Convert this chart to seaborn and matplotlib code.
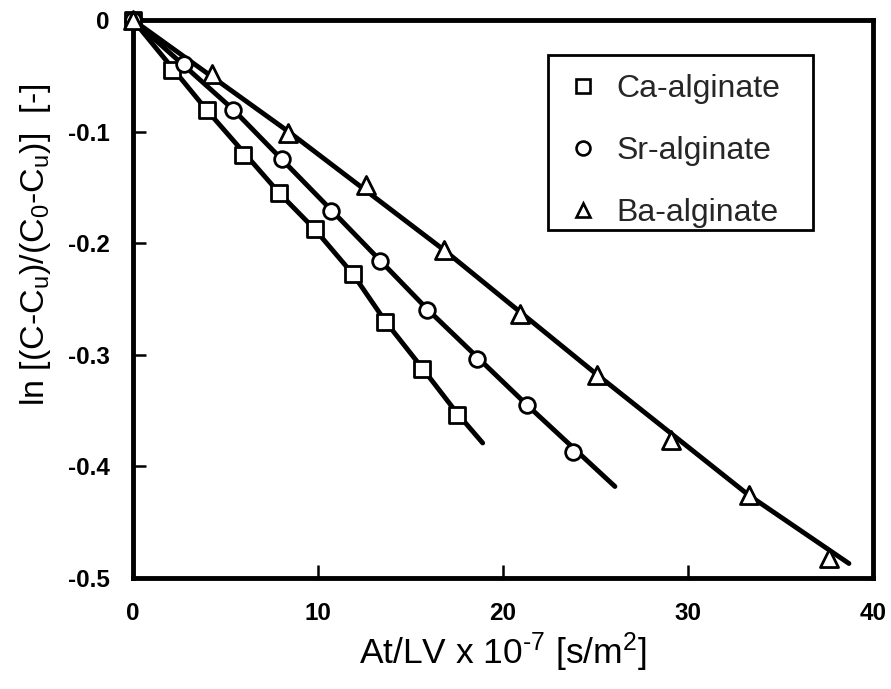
import matplotlib
matplotlib.use("Agg")
import matplotlib.pyplot as plt
import seaborn as sns
import pandas as pd
from matplotlib.lines import Line2D
from matplotlib.patches import Rectangle
from matplotlib.ticker import FuncFormatter

# ---------------- data ----------------
ca_x = [0.0, 2.1, 4.0, 5.95, 7.9, 9.85, 11.9, 13.64, 15.64, 17.5]
ca_y = [0.0, -0.045, -0.081, -0.121, -0.155, -0.187, -0.228, -0.271, -0.313, -0.354]

sr_x = [0.0, 2.76, 5.4, 8.05, 10.7, 13.37, 15.9, 18.6, 21.3, 23.8]
sr_y = [0.0, -0.039, -0.081, -0.125, -0.171, -0.216, -0.260, -0.304, -0.345, -0.387]

ba_x = [0.0, 4.25, 8.4, 12.6, 16.8, 20.9, 25.1, 29.1, 33.3, 37.6]
ba_y = [0.0, -0.048, -0.101, -0.148, -0.206, -0.263, -0.318, -0.376, -0.426, -0.482]

# fitted-line knots (trend lines as drawn)
ca_line_x = [0.0, 4.0, 7.9, 9.85, 11.9, 13.64, 15.64, 17.5, 18.9]
ca_line_y = [0.0, -0.081, -0.155, -0.188, -0.228, -0.270, -0.312, -0.352, -0.379]
sr_line_x = [0.0, 5.4, 10.7, 15.9, 21.3, 26.05]
sr_line_y = [0.0, -0.080, -0.170, -0.259, -0.345, -0.418]
ba_line_x = [0.0, 8.4, 16.8, 25.1, 33.3, 38.7]
ba_line_y = [0.0, -0.100, -0.206, -0.318, -0.426, -0.487]

labels = ["Ca-alginate", "Sr-alginate", "Ba-alginate"]
markers = ["s", "o", "^"]
x_ticks = [0, 10, 20, 30, 40]
y_ticks = [0, -0.1, -0.2, -0.3, -0.4, -0.5]

# ---------------- style ----------------
sns.set_theme(style="white")
plt.rcParams["font.family"] = ["Liberation Sans", "DejaVu Sans"]
plt.rcParams["mathtext.default"] = "regular"

fig = plt.figure(figsize=(8.91, 6.89), dpi=100)
ax = fig.add_axes([0.1493, 0.1611, 0.8305, 0.8099])

pts = pd.concat([
    pd.DataFrame({"x": ca_x, "y": ca_y, "s": labels[0]}),
    pd.DataFrame({"x": sr_x, "y": sr_y, "s": labels[1]}),
    pd.DataFrame({"x": ba_x, "y": ba_y, "s": labels[2]}),
])
lines = pd.concat([
    pd.DataFrame({"x": ca_line_x, "y": ca_line_y, "s": labels[0]}),
    pd.DataFrame({"x": sr_line_x, "y": sr_line_y, "s": labels[1]}),
    pd.DataFrame({"x": ba_line_x, "y": ba_line_y, "s": labels[2]}),
])

sns.lineplot(data=lines, x="x", y="y", units="s", estimator=None, sort=False,
             color="black", linewidth=3.5, legend=False, ax=ax, zorder=2)

msize = {"Ca-alginate": 11.5, "Sr-alginate": 11.3, "Ba-alginate": 13.0}
for lab, mk in zip(labels, markers):
    sub = pts[pts["s"] == lab]
    sns.scatterplot(data=sub, x="x", y="y", marker=mk, s=msize[lab] ** 2,
                    facecolor="white", edgecolor="black", linewidth=2.0,
                    legend=False, ax=ax, zorder=3, clip_on=False)

ax.set_xlim(0, 40)
ax.set_ylim(-0.5, 0)
ax.set_xticks(x_ticks)
ax.set_yticks(y_ticks)
ax.yaxis.set_major_formatter(FuncFormatter(lambda v, p: "0" if abs(v) < 1e-9 else f"{v:.1f}"))
ax.xaxis.set_major_formatter(FuncFormatter(lambda v, p: f"{int(round(v))}"))

for sp in ax.spines.values():
    sp.set_linewidth(3.5)
    sp.set_color("black")
ax.tick_params(axis="both", direction="in", length=9.5, width=1.8, color="black",
               labelsize=17.5, labelcolor="black", top=False, right=False,
               bottom=True, left=True)
ax.tick_params(axis="x", pad=17)
ax.tick_params(axis="y", pad=17)
for t in ax.get_xticklabels() + ax.get_yticklabels():
    t.set_fontweight("bold")

ax.set_xlabel("At/LV x 10$^{\u20107}$ [s/m$^{2}$]", fontsize=25.5, color="black", labelpad=4)
ax.set_ylabel("ln [(C-C$_{u}$)/(C$_{0}$-C$_{u}$)]  [-]", fontsize=24.5, color="black")
ax.yaxis.set_label_coords(-0.108, 0.597)

# legend box (frame drawn as a rectangle to match the original padding)
ax.add_patch(Rectangle((0.5608, 0.6237), 0.3581, 0.3136, transform=ax.transAxes,
                       facecolor="white", edgecolor="black", linewidth=2.0, zorder=4))
handles = [Line2D([], [], linestyle="none", marker=m, markersize=10,
                  markerfacecolor="white", markeredgecolor="black", markeredgewidth=1.9)
           for m in markers]
leg = ax.legend(handles, labels, loc="upper left", bbox_to_anchor=(0.5865, 0.903),
                borderaxespad=0, borderpad=0, fontsize=23, frameon=False,
                labelspacing=1.0, handletextpad=0.56, handlelength=1.0)
leg.set_zorder(5)

fig.savefig("out.png", dpi=100)
